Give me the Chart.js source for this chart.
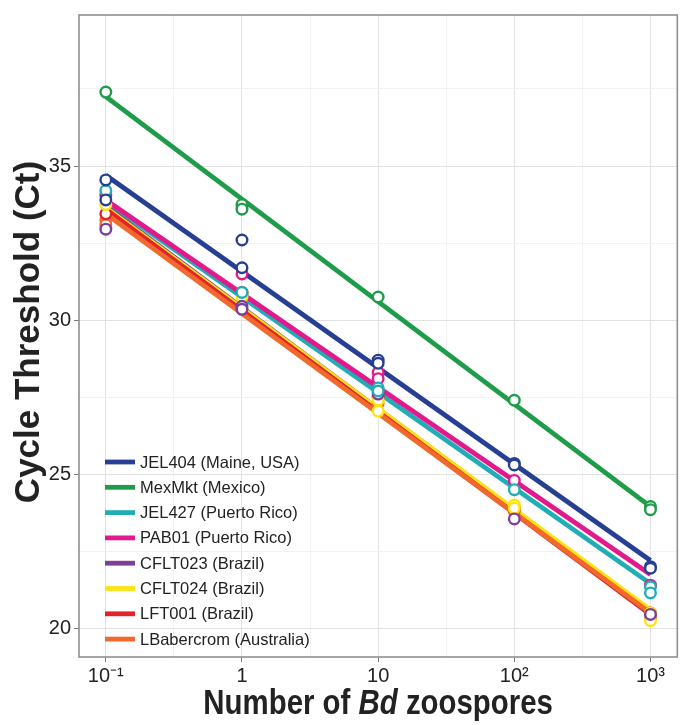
<!DOCTYPE html>
<html><head><meta charset="utf-8">
<script src="https://cdn.jsdelivr.net/npm/chart.js@4/dist/chart.umd.min.js"></script>
<style>html,body{margin:0;padding:0;background:#fff}#wrap{width:685px;height:725px;position:relative}</style>
</head><body><div id="wrap"><canvas id="c" width="685" height="725"></canvas></div>
<script>
// ---- data ----
const doses = [0.1, 1, 10, 100, 1000];
const strainNames = ["JEL404 (Maine, USA)", "MexMkt (Mexico)", "JEL427 (Puerto Rico)", "PAB01 (Puerto Rico)",
  "CFLT023 (Brazil)", "CFLT024 (Brazil)", "LFT001 (Brazil)", "LBabercrom (Australia)"];
const strainColors = ["#263f93", "#1e9c49", "#20adb6", "#e2198c", "#7d3f98", "#fde311", "#e2232a", "#f1692d"];
// replicate Ct values at each dose
const jel404     = [[34.55, 33.9], [32.6, 31.7], [28.7, 28.6], [25.35, 25.3], [22.0, 21.95]];
const mexMkt     = [[37.4], [33.75, 33.6], [30.75], [27.4], [23.95, 23.85]];
const jel427     = [[34.2], [30.9], [27.8, 27.7], [24.5], [21.35, 21.15]];
const pab01      = [[34.05], [31.5], [28.3, 28.1], [24.8], [21.4]];
const cflt023    = [[32.95], [30.45, 30.35], [27.6], [23.55], [20.45]];
const cflt024    = [[33.75], [30.75], [27.4, 27.05], [24.0, 23.9], [20.5, 20.25]];
const lft001     = [[33.45], [30.9], [27.5], [23.9], [20.5]];
const lBabercrom = [[33.25, 33.1], [30.85], [27.3], [23.8], [20.35]];
const replicates = [jel404, mexMkt, jel427, pab01, cflt023, cflt024, lft001, lBabercrom];
// fitted regression line values at lowest / highest dose
const fitStart = [34.7, 37.25, 33.85, 33.9, 33.7, 33.65, 33.6, 33.45];
const fitEnd   = [22.2, 23.95, 21.45, 21.75, 20.55, 20.6, 20.45, 20.5];
// ticks
const yTickValues = [20, 22.5, 25, 27.5, 30, 32.5, 35, 37.5];
const yTickLabels = ["20", "", "25", "", "30", "", "35", ""];
const xTickValues = [0.1, 0.31623, 1, 3.1623, 10, 31.623, 100, 316.23, 1000];
const xTickLabels = ["10\u207B\u00B9", "", "1", "", "10", "", "10\u00B2", "", "10\u00B3"];

// ---- datasets ----
const datasets = [];
strainNames.forEach((name, i) => {
  const pts = [];
  replicates[i].forEach((vals, j) => vals.forEach(v => pts.push({x: doses[j], y: v})));
  datasets.push({type: 'scatter', label: name, data: pts, order: 0,
    pointRadius: 5.3, pointBorderWidth: 2.4, borderColor: strainColors[i], backgroundColor: '#ffffff',
    pointHoverRadius: 5.3});
});
strainNames.forEach((name, i) => {
  datasets.push({type: 'line', label: name + ' fit', order: 100 - i,
    data: [{x: doses[0], y: fitStart[i]}, {x: doses[doses.length - 1], y: fitEnd[i]}],
    borderColor: strainColors[i], borderWidth: 4.8, pointRadius: 0, fill: false, borderCapStyle: 'butt'});
});

const TITLE_FONT = 'bold 35px "Liberation Sans", Arial, sans-serif';
const decor = {
  id: 'decor',
  afterDraw(chart) {
    const ctx = chart.ctx, a = chart.chartArea;
    ctx.save();
    ctx.strokeStyle = '#8f8f8f'; ctx.lineWidth = 1.6;
    ctx.strokeRect(a.left, a.top, a.right - a.left, a.bottom - a.top);
    // legend
    ctx.font = '16.5px "Liberation Sans", Arial, sans-serif';
    ctx.textBaseline = 'middle'; ctx.textAlign = 'left';
    strainNames.forEach((name, i) => {
      const y = a.bottom - 195 + i * 25.3;
      ctx.strokeStyle = strainColors[i]; ctx.lineWidth = 4.8; ctx.lineCap = 'butt';
      ctx.beginPath(); ctx.moveTo(a.left + 26, y); ctx.lineTo(a.left + 56, y); ctx.stroke();
      ctx.fillStyle = '#222';
      ctx.fillText(name, a.left + 61, y + 1);
    });
    // y title
    ctx.save();
    ctx.translate(29, (a.top + a.bottom) / 2 - 4);
    ctx.rotate(-Math.PI / 2);
    ctx.font = TITLE_FONT;
    ctx.textAlign = 'center'; ctx.textBaseline = 'middle'; ctx.fillStyle = '#222';
    ctx.fillText('Cycle Threshold (Ct)', 0, 0);
    ctx.restore();
    // x title with italic Bd (condensed)
    const sx = 0.84;
    const parts = [['Number of ', ''], ['Bd', 'italic '], [' zoospores', '']];
    let total = 0;
    parts.forEach(p => { ctx.font = p[1] + TITLE_FONT; p.w = ctx.measureText(p[0]).width; total += p.w; });
    ctx.save();
    ctx.translate((a.left + a.right) / 2, 714);
    ctx.scale(sx, 1);
    let x = -total / 2;
    ctx.textAlign = 'left'; ctx.textBaseline = 'alphabetic'; ctx.fillStyle = '#222';
    parts.forEach(p => { ctx.font = p[1] + TITLE_FONT; ctx.fillText(p[0], x, 0); x += p.w; });
    ctx.restore();
    ctx.restore();
  }
};

const tickFont = {family: '"Liberation Sans", Arial, sans-serif', size: 20};
new Chart(document.getElementById('c'), {
  data: {datasets},
  options: {
    responsive: false, animation: false, devicePixelRatio: 1,
    layout: {padding: {left: 0, top: 4, right: 5, bottom: 0}},
    plugins: {legend: {display: false}, tooltip: {enabled: false}},
    scales: {
      x: {
        type: 'logarithmic', min: Math.pow(10, -1.197), max: Math.pow(10, 3.197),
        afterBuildTicks: s => { s.ticks = xTickValues.map(v => ({value: v})); },
        afterFit: s => { s.height = 68; },
        ticks: {autoSkip: false, maxRotation: 0, padding: 2, color: '#222', font: tickFont,
          callback: (v, i) => xTickLabels[i]},
        grid: {color: c => (c.index % 2 === 0 ? '#e2e2e2' : '#f2f2f2'), lineWidth: 1,
          tickLength: 5, tickColor: c => (c.index % 2 === 0 ? '#7a7a7a' : 'rgba(0,0,0,0)')},
        border: {display: false}
      },
      y: {
        type: 'linear', min: 19.07, max: 39.9,
        afterBuildTicks: s => { s.ticks = yTickValues.map(v => ({value: v})); },
        afterFit: s => { s.width = 79; },
        ticks: {autoSkip: false, padding: 3, color: '#222', font: tickFont,
          callback: (v, i) => yTickLabels[i]},
        grid: {color: c => (c.index % 2 === 0 ? '#e2e2e2' : '#f2f2f2'), lineWidth: 1,
          tickLength: 5, tickColor: c => (c.index % 2 === 0 ? '#7a7a7a' : 'rgba(0,0,0,0)')},
        border: {display: false}
      }
    }
  },
  plugins: [decor]
});
</script></body></html>
